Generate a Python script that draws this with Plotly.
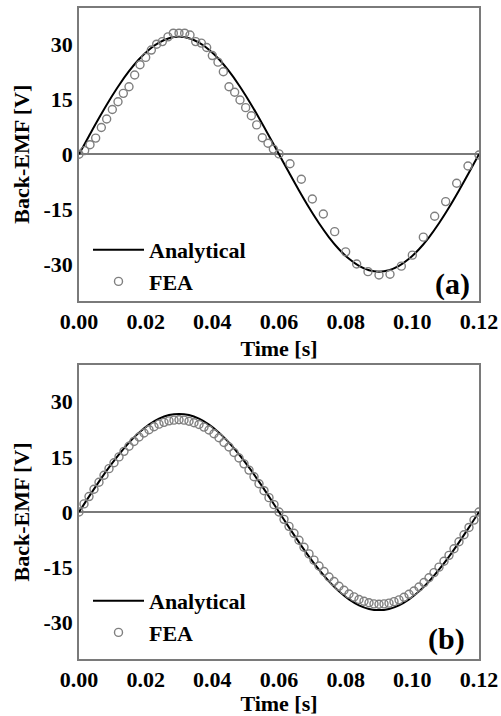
import plotly.graph_objects as go

# ---------------- data ----------------
# Analytical curves (sampled every 0.003 s)
t_an = [round(i * 0.003, 3) for i in range(41)]
an_a = [0, 5.00, 9.89, 14.53, 18.81, 22.63, 25.89, 28.51, 30.43, 31.61, 32.0,
        31.61, 30.43, 28.51, 25.89, 22.63, 18.81, 14.53, 9.89, 5.00, 0,
        -5.00, -9.89, -14.53, -18.81, -22.63, -25.89, -28.51, -30.43, -31.61, -32.0,
        -31.61, -30.43, -28.51, -25.89, -22.63, -18.81, -14.53, -9.89, -5.00, 0]
an_b = [0, 4.18, 8.25, 12.12, 15.69, 18.88, 21.60, 23.79, 25.39, 26.37, 26.7,
        26.37, 25.39, 23.79, 21.60, 18.88, 15.69, 12.12, 8.25, 4.18, 0,
        -4.18, -8.25, -12.12, -15.69, -18.88, -21.60, -23.79, -25.39, -26.37, -26.7,
        -26.37, -25.39, -23.79, -21.60, -18.88, -15.69, -12.12, -8.25, -4.18, 0]

# FEA (a)
t_fea_a = [0.0, 0.0017, 0.0033, 0.005, 0.0067, 0.0083, 0.01, 0.0117, 0.0133, 0.015,
           0.0167, 0.0183, 0.02, 0.0217, 0.0233, 0.025, 0.0267, 0.0283, 0.03, 0.0317,
           0.0333, 0.035, 0.0367, 0.0383, 0.04, 0.0417, 0.0433, 0.045, 0.0467, 0.0483,
           0.05, 0.0517, 0.0533, 0.055, 0.0567, 0.0583, 0.06,
           0.0633, 0.0667, 0.07, 0.0733, 0.0767, 0.08, 0.0833, 0.0867, 0.09, 0.0933,
           0.0967, 0.1, 0.1033, 0.1067, 0.11, 0.1133, 0.1167, 0.12]
fea_a = [0.0, 1.0, 2.6, 4.4, 7.3, 9.6, 12.2, 14.3, 16.6, 18.4,
         21.6, 24.4, 26.4, 28.4, 30.0, 30.7, 32.0, 33.0, 33.0, 33.0,
         32.5, 30.7, 30.3, 29.1, 26.9, 25.1, 22.5, 18.4, 16.9, 14.8,
         12.7, 10.5, 8.0, 4.5, 3.0, 1.4, 0.1,
         -2.6, -6.8, -12.2, -16.3, -21.1, -26.6, -29.9, -32.0, -32.9, -32.7,
         -30.5, -27.5, -22.6, -16.9, -12.9, -7.9, -3.2, -0.2]

# FEA (b) (every 0.0015 s)
t_fea_b = [round(i * 0.0015, 4) for i in range(81)]
fea_b = [0.0, 2.2, 4.2, 6.2, 8.1, 10.0, 11.8, 13.4, 15.0, 16.5,
         17.9, 19.2, 20.4, 21.5, 22.4, 23.2, 23.9, 24.4, 24.8, 25.0,
         25.1, 25.0, 24.7, 24.3, 23.8, 23.1, 22.3, 21.3, 20.2, 18.9,
         17.7, 16.2, 14.7, 13.1, 11.4, 9.6, 7.7, 5.8, 3.9, 2.0,
         0.0, -2.0, -3.9, -5.8, -7.7, -9.6, -11.4, -13.1, -14.7, -16.2,
         -17.7, -18.9, -20.2, -21.3, -22.3, -23.1, -23.8, -24.3, -24.7, -25.0,
         -25.1, -25.0, -24.8, -24.4, -23.9, -23.2, -22.4, -21.5, -20.4, -19.2,
         -17.9, -16.5, -15.0, -13.4, -11.8, -10.0, -8.1, -6.2, -4.2, -2.2, 0.0]

x_ticks = [0.0, 0.02, 0.04, 0.06, 0.08, 0.10, 0.12]
x_labels = ["0.00", "0.02", "0.04", "0.06", "0.08", "0.10", "0.12"]
y_ticks = [-30, -15, 0, 15, 30]
y_labels = ["-30", "-15", "0", "15", "30"]

# ---------------- style ----------------
FONT = "Liberation Serif, Times New Roman, serif"
AXC = "#7a7a7a"
MKC = "#7f7f7f"
W, H = 501, 716

fig = go.Figure()
for t_f, v_f, v_an, xa, ya, lg in [(t_fea_a, fea_a, an_a, "x", "y", "legend"),
                                   (t_fea_b, fea_b, an_b, "x2", "y2", "legend2")]:
    fig.add_trace(go.Scatter(x=t_an, y=v_an, mode="lines", name="Analytical",
                             line=dict(color="black", width=2, shape="spline"),
                             xaxis=xa, yaxis=ya, legend=lg))
    fig.add_trace(go.Scatter(x=t_f, y=v_f, mode="markers", name="FEA",
                             marker=dict(symbol="circle-open", size=8, color=MKC,
                                         line=dict(width=1.4, color=MKC)),
                             xaxis=xa, yaxis=ya, legend=lg))

xdom = [79 / W, 479 / W]
doms = [[1 - 301 / H, 1 - 7.5 / H], [1 - 659 / H, 1 - 365 / H]]

tickfont = dict(family=FONT, size=22, color="black", weight="bold")
titlefont = dict(family=FONT, size=22, color="black", weight="bold")

def xax(anchor):
    return dict(domain=xdom, range=[0, 0.12], anchor=anchor, tickvals=x_ticks,
                ticktext=x_labels, automargin=False,
                showline=True, mirror=True, linecolor=AXC,
                linewidth=1.5, showgrid=False, zeroline=False, ticks="",
                tickfont=tickfont,
                title=dict(text="Time [s]", font=titlefont, standoff=7))

def yax(anchor, dom):
    return dict(domain=dom, range=[-40, 40], anchor=anchor, tickvals=y_ticks,
                ticktext=y_labels, automargin=False,
                showline=True, mirror=True, linecolor=AXC, linewidth=1.5,
                showgrid=False, zeroline=True, zerolinecolor=AXC, zerolinewidth=1.5,
                ticks="", tickfont=tickfont,
                title=dict(text="Back-EMF [V]", font=titlefont, standoff=8))

legfont = dict(family=FONT, size=22, color="black", weight="bold")
fig.update_layout(
    width=W, height=H,
    margin=dict(l=0, r=0, t=0, b=0),
    paper_bgcolor="white", plot_bgcolor="white",
    showlegend=True,
    xaxis=xax("y"), yaxis=yax("x", doms[0]),
    xaxis2=xax("y2"), yaxis2=yax("x2", doms[1]),
    legend=dict(x=88 / W, y=1 - 229 / H, xanchor="left", yanchor="top",
                bgcolor="rgba(0,0,0,0)", font=legfont, tracegroupgap=0,
                itemwidth=51),
    legend2=dict(x=88 / W, y=1 - 580 / H, xanchor="left", yanchor="top",
                 bgcolor="rgba(0,0,0,0)", font=legfont, tracegroupgap=0,
                 itemwidth=51),
    annotations=[
        dict(text="(a)", x=452 / W, y=1 - 284 / H, xref="paper", yref="paper",
             xanchor="center", yanchor="middle", showarrow=False,
             font=dict(family=FONT, size=30, color="black", weight="bold")),
        dict(text="(b)", x=446 / W, y=1 - 639 / H, xref="paper", yref="paper",
             xanchor="center", yanchor="middle", showarrow=False,
             font=dict(family=FONT, size=30, color="black", weight="bold")),
    ],
)

fig.write_html("out.html", config={"displayModeBar": False},
               post_script="document.body.style.margin='0px';")
